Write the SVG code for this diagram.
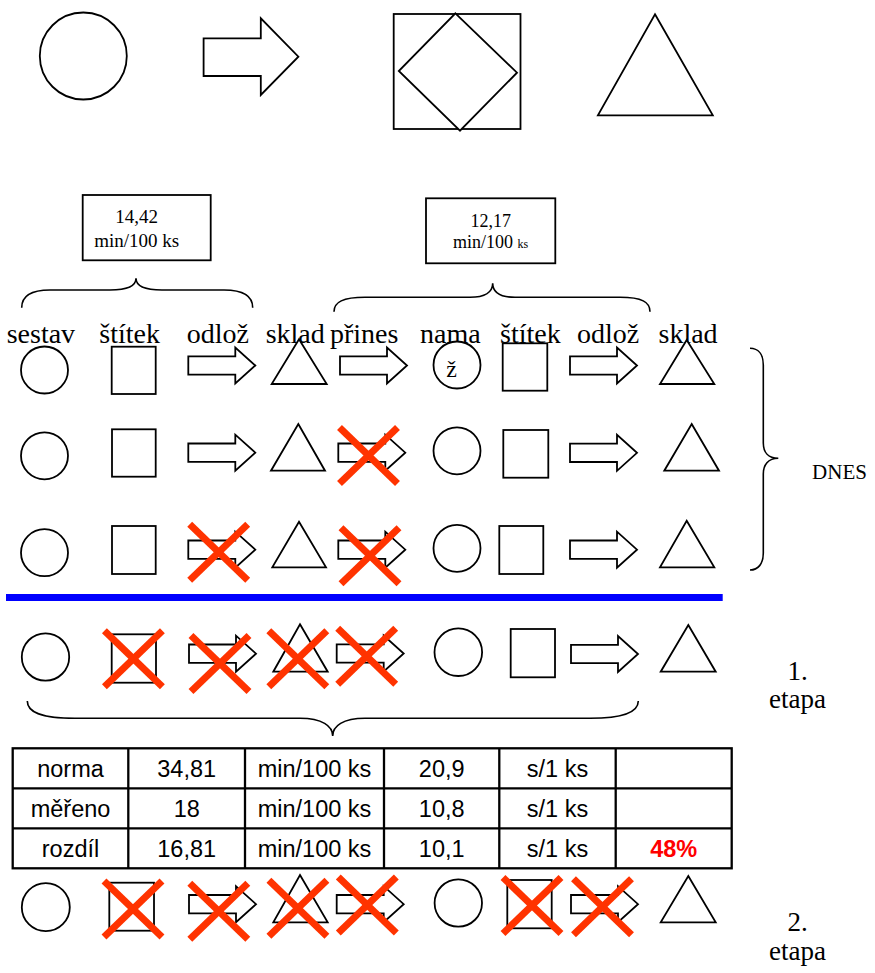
<svg xmlns="http://www.w3.org/2000/svg" xmlns:xlink="http://www.w3.org/1999/xlink" width="875" height="973" viewBox="0 0 875 973">
<style>
.s{fill:#fff;stroke:#000;stroke-width:1.8}
.b{fill:none;stroke:#000;stroke-width:1.6}
.x{stroke:#ff3300;stroke-width:7;stroke-linecap:butt}
.lbl{font-family:"Liberation Serif","Times New Roman",serif;font-size:28px;fill:#000}
.ser{font-family:"Liberation Serif","Times New Roman",serif;fill:#000}
.tb{font-family:"Liberation Sans",Arial,sans-serif;font-size:23.5px;fill:#000;text-anchor:middle}
.tl{stroke:#000;stroke-width:2.3;fill:none}
</style>
<defs>
<path id="ar" class="s" d="M0,-9.2 H47 V-18 L67,0 L47,18 V9.2 H0 Z"/>
<g id="xm"><line class="x" x1="-29" y1="-28" x2="29" y2="28"/><line class="x" x1="29" y1="-28" x2="-29" y2="28"/></g>
</defs>
<rect width="875" height="973" fill="#fff"/>

<!-- legend top -->
<g id="legend">
<circle class="s" cx="83.3" cy="56" r="43.5"/>
<path class="s" d="M203.6,38.3 H260.8 V18.3 L298.4,56.7 L260.8,95 V76 H203.6 Z"/>
<rect class="s" x="393.7" y="14" width="126.8" height="115"/>
<path class="s" d="M455.4,13.3 L517,72.7 L460,130.7 L398.8,71 Z"/>
<path class="s" d="M655,14.3 L712.8,115.3 L597.9,115.3 Z"/>
</g>

<!-- time boxes -->
<g id="box1">
<rect class="s" x="82.7" y="195" width="128" height="65.3"/>
<text class="ser" x="136.7" y="222.7" font-size="19" text-anchor="middle">14,42</text>
<text class="ser" x="136.7" y="246.7" font-size="19" text-anchor="middle">min/100 ks</text>
</g>
<g id="box2">
<rect class="s" x="426" y="198.3" width="129.3" height="65"/>
<text class="ser" x="490.7" y="226.7" font-size="18" text-anchor="middle">12,17</text>
<text class="ser" x="490.7" y="248.3" font-size="18" text-anchor="middle">min/100 <tspan font-size="12">ks</tspan></text>
</g>

<!-- braces -->
<g id="connectors">
<path class="b" d="M21.7,307.7 C21.7,296 30,290 50,290 H110 C126,290 136,287 136,278.3 C136,287 146,290 162,290 H224 C244,290 252.7,296 252.7,307.7"/>
<path class="b" d="M334,311.7 C334,302 343,297.3 365,297.3 H470 C485,297.3 492.7,292 492.7,283.3 C492.7,292 500,297.3 515,297.3 H620 C642,297.3 650,302 650,311.7"/>
<path class="b" d="M750,348.3 C758,348.3 763.3,354 763.3,365 V443 C763.3,452 768,458.3 778.3,458.3 C768,458.3 763.3,465 763.3,474 V553 C763.3,564 758,570 750,570"/>
<path class="b" d="M27.3,701 C27.3,712 40,718.3 75,718.3 H300 C322,718.3 332.7,726 332.7,736 C332.7,726 343,718.3 365,718.3 H590 C625,718.3 638.3,712 638.3,701"/>
</g>

<!-- labels -->
<g id="labels">
<text class="lbl" x="6.7" y="343">sestav</text>
<text class="lbl" x="99.3" y="343">štítek</text>
<text class="lbl" x="186.7" y="343">odlož</text>
<text class="lbl" x="265.7" y="343">sklad</text>
<text class="lbl" x="330" y="343">přines</text>
<text class="lbl" x="420" y="343">nama</text>
<text class="lbl" x="500" y="343">štítek</text>
<text class="lbl" x="577" y="343">odlož</text>
<text class="lbl" x="658.5" y="343">sklad</text>
<text class="ser" x="839.5" y="479" font-size="21" text-anchor="middle">DNES</text>
<text class="ser" x="797.5" y="680" font-size="27" text-anchor="middle">1.</text>
<text class="ser" x="797.5" y="708" font-size="27" text-anchor="middle">etapa</text>
<text class="ser" x="797.5" y="931" font-size="27" text-anchor="middle">2.</text>
<text class="ser" x="797.5" y="960" font-size="27" text-anchor="middle">etapa</text>
</g>

<!-- row 1 -->
<g id="row1">
<circle class="s" cx="44.5" cy="370" r="23.5"/>
<rect class="s" x="111.7" y="346.7" width="44" height="47.3"/>
<use href="#ar" x="188.3" y="365.5"/>
<path class="s" d="M299,339.3 L326.7,384 L271.7,384 Z"/>
<use href="#ar" x="340" y="365.5"/>
<g id="r1-nama"><circle class="s" cx="457" cy="365" r="23.5"/><text class="ser" x="451.5" y="377" font-size="24" text-anchor="middle">ž</text></g>
<rect class="s" x="502.7" y="343.3" width="44.6" height="47.4"/>
<use href="#ar" x="570" y="365.5"/>
<path class="s" d="M686.7,340 L714.3,384 L660,384 Z"/>
</g>

<!-- row 2 -->
<g id="row2">
<circle class="s" cx="44.5" cy="455.8" r="23.5"/>
<rect class="s" x="112" y="429.3" width="43.7" height="47.4"/>
<use href="#ar" x="188.3" y="452.7"/>
<path class="s" d="M298.3,424 L325,470.7 L271,470.7 Z"/>
<use href="#ar" x="338.3" y="452.7"/>
<use href="#xm" x="368.5" y="455.5"/>
<circle class="s" cx="457" cy="450.8" r="23.5"/>
<rect class="s" x="503.3" y="430" width="45" height="47.7"/>
<use href="#ar" x="570" y="452.8"/>
<path class="s" d="M691.7,424 L719,470.7 L664.3,470.7 Z"/>
</g>

<!-- row 3 -->
<g id="row3">
<circle class="s" cx="44.5" cy="552.7" r="23.5"/>
<rect class="s" x="112" y="526" width="43.7" height="48"/>
<use href="#ar" x="188.3" y="549.7"/>
<use href="#xm" x="218.7" y="552.3"/>
<path class="s" d="M299,521.7 L326,567.3 L272.3,567.3 Z"/>
<use href="#ar" x="338.3" y="549.7"/>
<use href="#xm" x="370" y="555.7"/>
<circle class="s" cx="457" cy="548.3" r="23.5"/>
<rect class="s" x="499.3" y="526" width="44" height="48"/>
<use href="#ar" x="570" y="549.7"/>
<path class="s" d="M686.7,520.7 L714.3,567.3 L660,567.3 Z"/>
</g>

<rect id="divider" x="6" y="594" width="716.7" height="7" fill="#0000ff"/>

<!-- row 4 -->
<g id="row4">
<circle class="s" cx="45.5" cy="657" r="23.7"/>
<rect class="s" x="111.7" y="634.3" width="44.3" height="48.4"/>
<use href="#xm" x="133.4" y="658.7"/>
<use href="#ar" x="189" y="653.7"/>
<use href="#xm" x="220" y="663.5"/>
<path class="s" d="M300,624.3 L327.7,671.7 L273.3,671.7 Z"/>
<use href="#xm" x="297.8" y="658.7"/>
<use href="#ar" x="336.7" y="653.5"/>
<use href="#xm" x="366.7" y="656.2"/>
<circle class="s" cx="458.3" cy="652.2" r="23.8"/>
<rect class="s" x="510.7" y="629" width="44.3" height="48.3"/>
<use href="#ar" x="571" y="654"/>
<path class="s" d="M688.3,625 L715.7,671.7 L660.7,671.7 Z"/>
</g>

<!-- table -->
<g id="table">
<rect class="tl" x="12.7" y="748.3" width="719" height="120"/>
<line class="tl" x1="12.7" y1="788.3" x2="731.7" y2="788.3"/>
<line class="tl" x1="12.7" y1="828.3" x2="731.7" y2="828.3"/>
<line class="tl" x1="128.3" y1="748.3" x2="128.3" y2="868.3"/>
<line class="tl" x1="245" y1="748.3" x2="245" y2="868.3"/>
<line class="tl" x1="384" y1="748.3" x2="384" y2="868.3"/>
<line class="tl" x1="499.3" y1="748.3" x2="499.3" y2="868.3"/>
<line class="tl" x1="615.7" y1="748.3" x2="615.7" y2="868.3"/>
<text class="tb" x="70.5" y="776.5">norma</text>
<text class="tb" x="186.7" y="776.5">34,81</text>
<text class="tb" x="314.5" y="776.5">min/100 ks</text>
<text class="tb" x="441.7" y="776.5">20,9</text>
<text class="tb" x="557.5" y="776.5">s/1 ks</text>
<text class="tb" x="70.5" y="816.5">měřeno</text>
<text class="tb" x="186.7" y="816.5">18</text>
<text class="tb" x="314.5" y="816.5">min/100 ks</text>
<text class="tb" x="441.7" y="816.5">10,8</text>
<text class="tb" x="557.5" y="816.5">s/1 ks</text>
<text class="tb" x="70.5" y="856.5">rozdíl</text>
<text class="tb" x="186.7" y="856.5">16,81</text>
<text class="tb" x="314.5" y="856.5">min/100 ks</text>
<text class="tb" x="441.7" y="856.5">10,1</text>
<text class="tb" x="557.5" y="856.5">s/1 ks</text>
<text class="tb" x="673.7" y="856.5" font-weight="bold" style="fill:#ff0000">48%</text>
</g>

<!-- row 5 -->
<g id="row5">
<circle class="s" cx="45.8" cy="907.2" r="24"/>
<rect class="s" x="109.3" y="882.7" width="44.7" height="48"/>
<use href="#xm" x="133" y="909"/>
<use href="#ar" x="189" y="904.2"/>
<use href="#xm" x="218.8" y="911.3"/>
<path class="s" d="M300,875 L327.7,922.3 L273.3,922.3 Z"/>
<use href="#xm" x="297.9" y="908.3"/>
<use href="#ar" x="336.7" y="904.2"/>
<use href="#xm" x="367.3" y="905"/>
<circle class="s" cx="458.3" cy="903" r="23.7"/>
<rect class="s" x="507.3" y="880" width="44.4" height="48.3"/>
<use href="#xm" x="532" y="905.5"/>
<use href="#ar" x="571" y="904.2"/>
<use href="#xm" x="602.5" y="906.8"/>
<path class="s" d="M688.3,876 L715.7,922.3 L660.7,922.3 Z"/>
</g>
</svg>
